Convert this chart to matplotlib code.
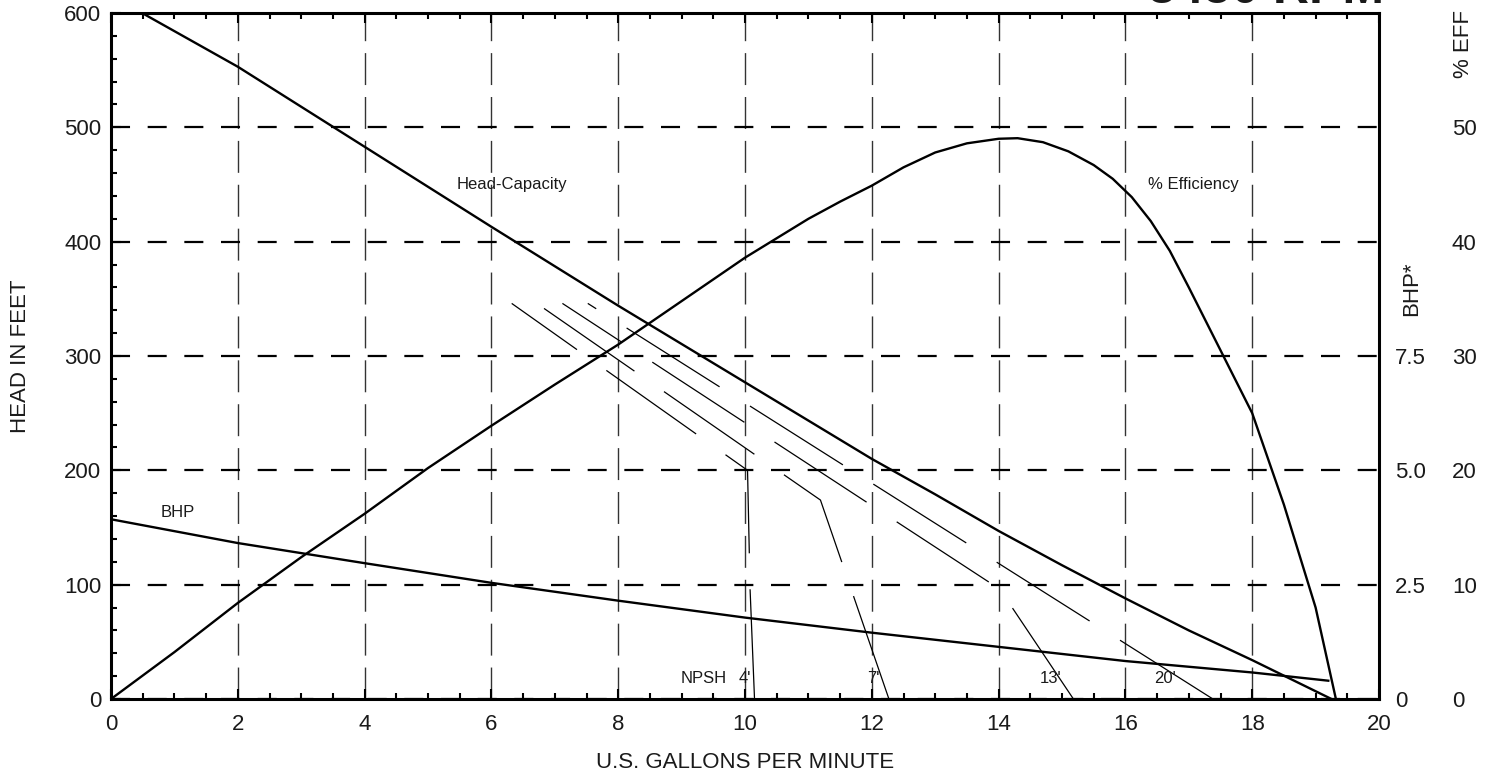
import matplotlib
matplotlib.use('Agg')
import matplotlib.pyplot as plt
from matplotlib.ticker import MultipleLocator

plt.rcParams['font.family'] = ['Liberation Sans', 'DejaVu Sans']
plt.rcParams['lines.scale_dashes'] = False

# head-capacity curve (feet)
head_x = [0.49, 2, 4, 6, 8, 10, 12, 13, 14, 15, 16, 17, 18, 19.25]
head_y = [600, 553, 483, 413, 344, 277, 210, 179, 147, 117, 88, 60, 34, 0]

# efficiency curve (%)
eff_x = [0, 1, 2, 3, 4, 5, 6, 7, 8, 9, 10, 11, 11.5, 12, 12.5, 13, 13.5, 14, 14.3,
         14.7, 15.1, 15.5, 15.8, 16.1, 16.4, 16.7, 17, 17.5, 18, 18.5, 19, 19.32]
eff_y = [0, 4.1, 8.4, 12.4, 16.2, 20.2, 23.9, 27.5, 31.0, 34.8, 38.6, 42.0, 43.5,
         44.9, 46.5, 47.8, 48.6, 49.0, 49.05, 48.7, 47.9, 46.7, 45.5, 43.9, 41.8,
         39.2, 36.0, 30.5, 25.0, 17.0, 8.0, 0]

# brake horsepower
bhp_x = [0, 2, 4, 6, 8, 10, 12, 14, 16, 18, 19.2]
bhp_y = [3.93, 3.41, 2.97, 2.54, 2.15, 1.78, 1.45, 1.14, 0.83, 0.58, 0.40]

# NPSH required curves (feet)
npsh4_x = [6.32, 10.04, 10.08, 10.15]
npsh4_y = [346, 200, 96, 0]
npsh7_x = [6.83, 11.19, 12.27]
npsh7_y = [341.6, 174, 0]
npsh13_x = [7.12, 14.02, 15.18]
npsh13_y = [346, 96, 0]
npsh20_x = [7.52, 17.38]
npsh20_y = [346, 0]

ink = '#1a1a1a'

fig = plt.figure(figsize=(14.97, 7.76), dpi=100)
ax = fig.add_axes([0.07415, 0.09923, 0.84703, 0.88402])
ax.set_xlim(0, 20)
ax.set_ylim(0, 600)
ax.set_xticks(range(0, 21, 2))
ax.set_yticks(range(0, 601, 100))
ax.xaxis.set_minor_locator(MultipleLocator(0.5))
ax.yaxis.set_minor_locator(MultipleLocator(20))
ax.tick_params(which='both', direction='in', top=True, right=True, width=1.5, colors='k')
ax.tick_params(which='major', length=7, labelsize=16, labelcolor=ink)
ax.tick_params(which='minor', length=4.3)
ax.tick_params(axis='x', pad=11)
ax.tick_params(axis='y', pad=7)
for s in ax.spines.values():
    s.set_linewidth(2.2)

ax.xaxis.grid(True, color='#333333', lw=1.0, linestyle=(0, (23, 8.6)))
ax.yaxis.grid(True, color='k', lw=1.6, linestyle=(0, (13.7, 12.7)))

ax.plot(head_x, head_y, color='k', lw=1.7)

npsh_dash = (79.2, 25.9)
ax.plot(npsh4_x, npsh4_y, color='k', lw=0.9, linestyle=(21.6, npsh_dash))
ax.plot(npsh7_x, npsh7_y, color='k', lw=0.9, linestyle=(0, npsh_dash))
ax.plot(npsh13_x, npsh13_y, color='k', lw=0.9, linestyle=(27.8, npsh_dash))
ax.plot(npsh20_x, npsh20_y, color='k', lw=0.9, linestyle=(72, npsh_dash))

ax.set_xlabel('U.S. GALLONS PER MINUTE', fontsize=16, color=ink)
ax.xaxis.set_label_coords(0.5, -0.077)
ax.set_ylabel('HEAD IN FEET', fontsize=16, color=ink)
ax.yaxis.set_label_coords(-0.063, 0.5)

ax.text(6.32, 450, 'Head-Capacity', fontsize=12, color=ink, ha='center', va='center')
ax.text(17.07, 450, '% Efficiency', fontsize=12, color=ink, ha='center', va='center')
ax.text(1.05, 163, 'BHP', fontsize=12, color=ink, ha='center', va='center')
ax.text(9.35, 18, 'NPSH', fontsize=12, color=ink, ha='center', va='center')
ax.text(10.0, 18, "4'", fontsize=12, color=ink, ha='center', va='center')
ax.text(12.03, 18, "7'", fontsize=12, color=ink, ha='center', va='center')
ax.text(14.82, 18, "13'", fontsize=12, color=ink, ha='center', va='center')
ax.text(16.62, 18, "20'", fontsize=12, color=ink, ha='center', va='center')

# BHP scale
ax2 = ax.twinx()
ax2.set_ylim(0, 15)
ax2.set_yticks([0, 2.5, 5, 7.5])
ax2.set_yticklabels(['0', '2.5', '5.0', '7.5'])
ax2.tick_params(length=0, pad=11.5, labelsize=16, labelcolor=ink)
for s in ax2.spines.values():
    s.set_visible(False)
ax2.plot(bhp_x, bhp_y, color='k', lw=1.7)

# efficiency scale
ax3 = ax.twinx()
ax3.set_ylim(0, 60)
ax3.set_yticks(range(0, 51, 10))
ax3.tick_params(length=0, pad=52.5, labelsize=16, labelcolor=ink)
for s in ax3.spines.values():
    s.set_visible(False)
ax3.plot(eff_x, eff_y, color='k', lw=1.7)

ax.text(1.026, 0.598, 'BHP*', rotation=90, fontsize=16, color=ink,
        ha='center', va='center', transform=ax.transAxes)
ax.text(1.067, 0.955, '% EFF', rotation=90, fontsize=16, color=ink,
        ha='center', va='center', transform=ax.transAxes)

# title line sits mostly above the visible area, as in the source scan
fig.text(0.9245, 0.9955, '3450 RPM', ha='right', va='baseline', fontsize=36,
         fontweight='bold', color=ink)

fig.savefig('out.png', dpi=100)
